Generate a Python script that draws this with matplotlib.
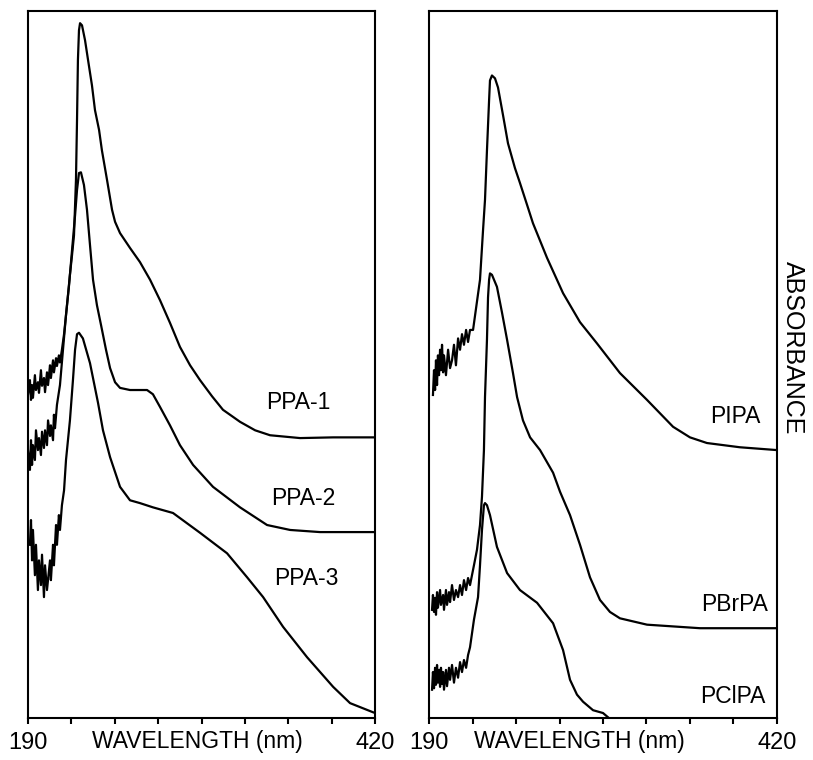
import numpy as np
import matplotlib.pyplot as plt

# UV spectra, wavelength (nm) vs absorbance (arbitrary units, curves offset)
ppa1_wl = [190.0, 191.3, 192.0, 192.7, 193.3, 194.6, 195.3, 196.6, 197.3, 198.6, 199.3, 200.6,
           201.3, 202.6, 203.3, 204.6, 205.2, 206.6, 207.2, 208.6, 209.2, 210.5, 211.2, 212.5,
           213.9, 215.2, 216.5, 217.8, 219.2, 220.5, 221.8, 222.5, 223.1, 223.8, 224.5, 225.8,
           227.8, 229.8, 232.4, 234.4, 237.1, 239.0, 242.4, 245.7, 247.7, 251.0, 257.6, 264.2,
           270.9, 277.5, 284.1, 290.7, 297.4, 304.0, 312.0, 319.2, 325.2, 330.5, 340.5, 350.4,
           370.3, 392.2, 420.0]
ppa1_ab = [0.457, 0.478, 0.450, 0.471, 0.453, 0.485, 0.464, 0.475, 0.460, 0.492, 0.470, 0.481,
           0.461, 0.489, 0.471, 0.499, 0.481, 0.506, 0.489, 0.509, 0.498, 0.513, 0.503, 0.521,
           0.543, 0.570, 0.598, 0.627, 0.655, 0.683, 0.761, 0.846, 0.931, 0.973, 0.983, 0.980,
           0.959, 0.931, 0.895, 0.860, 0.832, 0.803, 0.761, 0.719, 0.702, 0.686, 0.665, 0.645,
           0.620, 0.591, 0.559, 0.525, 0.499, 0.478, 0.455, 0.436, 0.427, 0.419, 0.407, 0.400,
           0.396, 0.397, 0.397]

ppa2_wl = [190.0, 191.3, 192.0, 192.7, 193.3, 194.6, 195.3, 196.6, 197.3, 198.6, 199.3, 200.6,
           201.3, 202.6, 203.3, 204.6, 205.2, 206.6, 207.2, 207.9, 209.2,
           211.2, 213.2, 215.2, 217.2, 219.2, 221.2, 222.5, 223.8, 225.1, 227.1, 229.1, 231.1,
           233.1, 235.7, 238.4, 241.7, 244.4, 247.7, 251.0, 257.6, 268.9, 272.8, 277.5, 284.1,
           290.7, 299.4, 312.6, 330.5, 348.4, 363.7, 383.5, 420.0]
ppa2_ab = [0.379, 0.351, 0.393, 0.358, 0.386, 0.365, 0.407, 0.379, 0.396, 0.372, 0.405, 0.382,
           0.407, 0.386, 0.421, 0.399, 0.414, 0.393, 0.429, 0.410, 0.443,
           0.471, 0.521, 0.570, 0.612, 0.662, 0.711, 0.747, 0.771, 0.772, 0.754, 0.719, 0.669,
           0.620, 0.584, 0.556, 0.521, 0.495, 0.475, 0.467, 0.464, 0.464, 0.458, 0.440, 0.414,
           0.386, 0.358, 0.327, 0.298, 0.273, 0.266, 0.263, 0.263]

ppa3_wl = [191.3, 192.0, 192.7, 193.3, 194.6, 195.3, 196.6, 197.3, 198.6, 199.3, 200.6, 201.3,
           202.6, 204.6, 205.2, 206.6, 207.2, 208.6, 209.2, 210.5, 211.2, 212.5,
           213.9, 215.2, 217.8, 219.8, 221.2, 222.5, 223.8, 226.4, 231.1, 236.4, 239.7, 244.4,
           251.0, 257.6, 264.2, 272.8, 286.1, 304.0, 321.9, 335.2, 345.8, 359.0, 374.9, 392.2,
           403.4, 418.7, 420.0]
ppa3_ab = [0.245, 0.280, 0.223, 0.266, 0.202, 0.245, 0.181, 0.223, 0.188, 0.231, 0.171, 0.216,
           0.181, 0.223, 0.195, 0.245, 0.216, 0.273, 0.245, 0.287, 0.266, 0.301,
           0.322, 0.365, 0.421, 0.478, 0.521, 0.543, 0.545, 0.537, 0.502, 0.446, 0.407, 0.369,
           0.327, 0.308, 0.304, 0.298, 0.290, 0.262, 0.233, 0.199, 0.171, 0.129, 0.086, 0.044,
           0.021, 0.008, 0.007]

pipa_wl = [192.6, 193.3, 194.0, 194.6, 195.3, 195.9, 196.6, 197.3, 197.9, 198.6, 199.3, 199.9,
           201.2, 202.6, 203.9, 205.2, 206.5, 207.8, 209.2, 210.5, 211.8, 213.1, 214.5, 215.8,
           217.1, 219.1, 223.7, 225.7, 227.0, 228.3, 229.7, 230.3, 231.6, 233.6, 235.6, 238.9,
           242.2, 246.8, 250.1, 254.8, 258.7, 268.0, 278.6, 289.8, 301.0, 316.2, 334.1, 351.3,
           362.5, 373.7, 395.5, 420.0]
pipa_ab = [0.457, 0.492, 0.464, 0.506, 0.471, 0.513, 0.485, 0.521, 0.492, 0.528, 0.489, 0.513,
           0.485, 0.521, 0.495, 0.506, 0.528, 0.499, 0.537, 0.521, 0.543, 0.528, 0.549, 0.532,
           0.549, 0.549, 0.620, 0.690, 0.733, 0.803, 0.874, 0.902, 0.909, 0.905, 0.892, 0.853,
           0.813, 0.778, 0.757, 0.726, 0.700, 0.651, 0.601, 0.560, 0.530, 0.488, 0.450, 0.412,
           0.397, 0.389, 0.383, 0.379]

pbrpa_wl = [192.0, 192.6, 193.3, 194.0, 194.6, 195.3, 195.9, 197.3, 197.9, 199.3, 199.9, 201.2,
            201.9, 203.2, 203.9, 205.2, 206.5, 207.8, 209.2, 210.5, 211.8, 213.1, 214.5, 215.8,
            217.1, 219.7, 221.7, 223.7, 225.0, 226.3, 227.0, 228.3, 229.0, 229.7, 230.3, 231.6,
            234.9, 238.2, 241.6, 245.5, 248.2, 252.1, 256.8, 263.4, 272.0, 276.6, 283.2, 289.8,
            296.4, 303.0, 309.6, 316.2, 334.1, 369.1, 420.0]
pbrpa_ab = [0.153, 0.174, 0.150, 0.170, 0.146, 0.178, 0.156, 0.181, 0.160, 0.174, 0.153, 0.181,
            0.160, 0.178, 0.164, 0.188, 0.167, 0.181, 0.171, 0.188, 0.174, 0.195, 0.181, 0.198,
            0.188, 0.216, 0.238, 0.273, 0.313, 0.379, 0.454, 0.535, 0.595, 0.620, 0.629, 0.627,
            0.610, 0.574, 0.535, 0.488, 0.454, 0.421, 0.397, 0.379, 0.347, 0.320, 0.287, 0.245,
            0.199, 0.167, 0.150, 0.141, 0.132, 0.127, 0.127]

pclpa_wl = [192.0, 192.6, 193.3, 194.0, 194.6, 195.3, 195.9, 196.6, 197.3, 197.9, 198.6, 199.3,
            199.9, 201.2, 201.9, 203.2, 203.9, 205.2, 206.5, 207.8, 209.2, 210.5, 211.8, 213.1,
            214.5, 215.8, 217.1, 219.7, 222.4, 223.7, 225.0, 226.3, 227.0, 228.3, 230.3, 234.9,
            241.6, 250.1, 261.4, 272.0, 278.6, 283.2, 287.8, 291.8, 298.4, 305.0, 308.3]
pclpa_ab = [0.040, 0.065, 0.042, 0.071, 0.047, 0.075, 0.050, 0.068, 0.044, 0.071, 0.048, 0.065,
            0.040, 0.068, 0.045, 0.071, 0.054, 0.075, 0.050, 0.071, 0.057, 0.079, 0.065, 0.082,
            0.071, 0.089, 0.100, 0.139, 0.171, 0.216, 0.266, 0.301, 0.304, 0.301, 0.287, 0.242,
            0.205, 0.181, 0.163, 0.134, 0.096, 0.054, 0.033, 0.023, 0.011, 0.007, 0.001]

left_series = [(ppa1_wl, ppa1_ab, 'PPA-1', 369.0, 0.447),
               (ppa2_wl, ppa2_ab, 'PPA-2', 372.3, 0.310),
               (ppa3_wl, ppa3_ab, 'PPA-3', 374.3, 0.198)]
right_series = [(pipa_wl, pipa_ab, 'PIPA', 392.2, 0.426),
                (pbrpa_wl, pbrpa_ab, 'PBrPA', 392.2, 0.160),
                (pclpa_wl, pclpa_ab, 'PClPA', 390.9, 0.030)]

font = ['Liberation Sans', 'DejaVu Sans']
ticks = np.linspace(190, 420, 9)
tick_labels = ['190'] + [''] * 7 + ['420']

fig = plt.figure(figsize=(8.13, 7.6), dpi=100)
ax_left = fig.add_axes([0.0344, 0.0553, 0.427, 0.930])
ax_right = fig.add_axes([0.5277, 0.0553, 0.428, 0.930])

for ax, series in [(ax_left, left_series), (ax_right, right_series)]:
    for wl, ab, name, tx, ty in series:
        ax.plot(wl, ab, color='black', lw=1.6, solid_joinstyle='round')
        ax.text(tx, ty, name, ha='center', va='center', fontsize=16.5, family=font)
    ax.set_xlim(190, 420)
    ax.set_ylim(0, 1.0)
    ax.set_yticks([])
    ax.set_xticks(ticks)
    ax.set_xticklabels(tick_labels, family=font, fontsize=17)
    ax.tick_params(axis='x', direction='out', length=4, width=1.5, pad=6)
    for s in ax.spines.values():
        s.set_linewidth(1.5)

fig.text(0.243, 0.024, 'WAVELENGTH (nm)', ha='center', va='center', fontsize=16.5, family=font)
fig.text(0.713, 0.024, 'WAVELENGTH (nm)', ha='center', va='center', fontsize=16.5, family=font)
fig.text(0.975, 0.542, 'ABSORBANCE', rotation=-90, ha='center', va='center',
         fontsize=18, family=font)

fig.savefig('out.png', dpi=100)
